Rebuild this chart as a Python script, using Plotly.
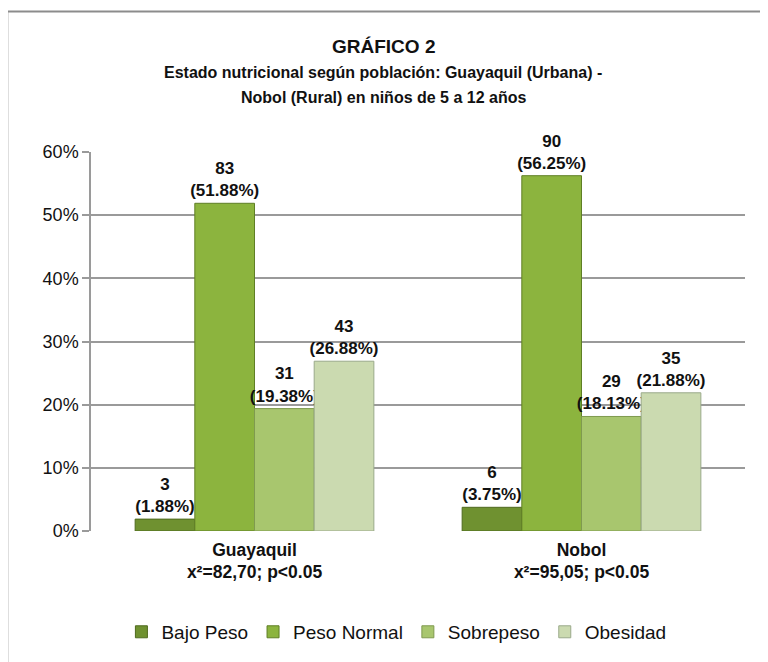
import plotly.graph_objects as go

categories = ["Guayaquil<br>x²=82,70; p<0.05", "Nobol<br>x²=95,05; p<0.05"]
series_names = ["Bajo Peso", "Peso Normal", "Sobrepeso", "Obesidad"]
counts = {
    "Bajo Peso": [3, 6],
    "Peso Normal": [83, 90],
    "Sobrepeso": [31, 29],
    "Obesidad": [43, 35],
}
percents = {
    "Bajo Peso": [1.88, 3.75],
    "Peso Normal": [51.88, 56.25],
    "Sobrepeso": [19.38, 18.13],
    "Obesidad": [26.88, 21.88],
}
y_ticks = [0, 0.1, 0.2, 0.3, 0.4, 0.5, 0.6]
y_tick_labels = ["0%", "10%", "20%", "30%", "40%", "50%", "60%"]
title_lines = [
    "GRÁFICO 2",
    "Estado nutricional según población: Guayaquil (Urbana) -",
    "Nobol (Rural) en niños de 5 a 12 años",
]

colors = {
    "Bajo Peso": "#6f9130",
    "Peso Normal": "#8cb43e",
    "Sobrepeso": "#a8c66e",
    "Obesidad": "#cbdab0",
}
line_colors = {
    "Bajo Peso": "#4f6a1e",
    "Peso Normal": "#5f7f25",
    "Sobrepeso": "#7f9a4f",
    "Obesidad": "#9aa98a",
}

FONT = "Liberation Sans, Arial, sans-serif"

fig = go.Figure()
for name in series_names:
    ys = [p / 100 for p in percents[name]]
    texts = [f"{n}<br>({p:.2f}%)" for n, p in zip(counts[name], percents[name])]
    fig.add_trace(go.Bar(
        name=name,
        x=categories,
        y=ys,
        text=texts,
        textposition="outside",
        constraintext="none",
        cliponaxis=False,
        textfont=dict(family=FONT, size=17, color="#111111", weight="bold"),
        marker=dict(color=colors[name], line=dict(color=line_colors[name], width=1)),
    ))

fig.update_layout(
    width=760, height=654,
    paper_bgcolor="white", plot_bgcolor="white",
    barmode="group", bargap=0.27, bargroupgap=0,
    margin=dict(l=83, r=23, t=144, b=130),
    font=dict(family=FONT, size=17, color="#111111"),
    xaxis=dict(
        showgrid=False, showline=False, ticks="",
        ticklabelstandoff=6,
        tickfont=dict(family=FONT, size=17.5, color="#111111", weight="bold"),
    ),
    yaxis=dict(
        range=[0, 0.6], tickvals=y_ticks, ticktext=y_tick_labels,
        showgrid=True, gridcolor="#9a9a9a", gridwidth=1.5,
        showline=True, linecolor="#9a9a9a", linewidth=1.5,
        ticks="outside", ticklen=7, tickcolor="#9a9a9a", tickwidth=1.5,
        tickfont=dict(family=FONT, size=18, color="#111111"),
        zeroline=False,
    ),
    legend=dict(
        orientation="h", x=0.467, xanchor="center", y=-0.263, yanchor="middle",
        font=dict(family=FONT, size=19, color="#111111"),
        itemwidth=30, traceorder="normal",
    ),
    showlegend=True,
)

for line, ypos, fsize in zip(title_lines, [1.279, 1.2105, 1.1447], [19, 16, 16]):
    fig.add_annotation(text=f"<b>{line}</b>", xref="paper", yref="paper",
                       x=0.4465, y=ypos, xanchor="center", yanchor="middle",
                       showarrow=False,
                       font=dict(family=FONT, size=fsize, color="#111111"))

fig.add_shape(type="rect", xref="paper", yref="paper",
              x0=-0.128, x1=1.2, y0=-0.6, y1=1.371,
              line=dict(color="#8c8c8c", width=2), layer="below")

fig.write_html("out.html")
